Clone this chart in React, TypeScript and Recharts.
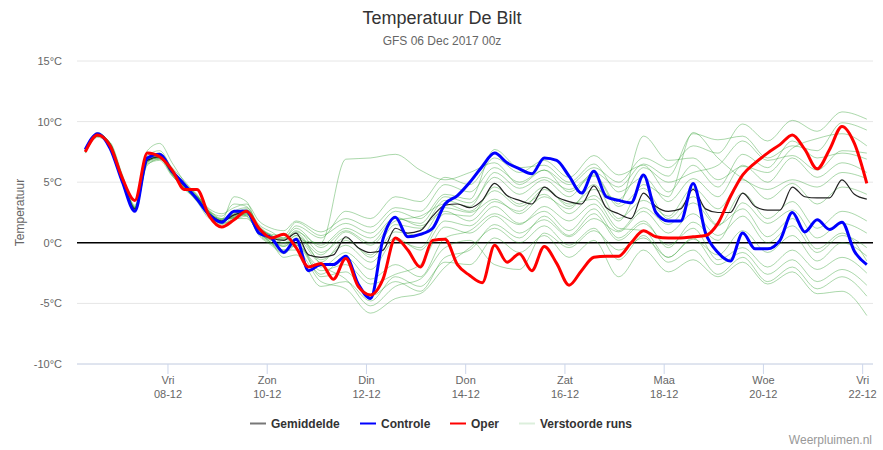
import React from 'react';
import { LineChart, Line, XAxis, YAxis, CartesianGrid, ReferenceLine } from 'recharts';

// hours after 06-12 00:00, one row every 6 hours
const hours = Array.from({ length: 64 }, (_, i) => 8 + i * 6);

const tickHours = [48, 96, 144, 192, 240, 288, 336, 384];
const tickDays = ['Vri', 'Zon', 'Din', 'Don', 'Zat', 'Maa', 'Woe', 'Vri'];
const tickDates = ['08-12', '10-12', '12-12', '14-12', '16-12', '18-12', '20-12', '22-12'];
const yTicks = [-10, -5, 0, 5, 10, 15];

const gemiddelde = [
  7.6, 8.9, 8.1, 5.2, 2.8, 6.8, 7.1, 5.8, 4.7, 3.7, 2.4, 1.8, 2.3, 2.6, 1.1, 0.4, 0.2,
  0.8, -1.0, -1.2, -1.0, 0.5, -0.4, -0.8, -0.6, 1.2, 0.8, 1.0, 2.2, 3.1, 3.2, 2.9, 3.5,
  4.9, 3.9, 3.5, 3.2, 4.6, 3.8, 3.4, 3.2, 4.7, 2.9, 2.4, 2.0, 4.1, 3.0, 2.6, 2.8,
  4.4, 2.8, 2.5, 2.5, 4.1, 3.0, 2.7, 2.7, 4.6, 3.8, 3.7, 3.7, 5.2, 4.0, 3.6,
];

const controle = [
  7.7, 9.0, 7.8, 5.0, 2.6, 7.0, 7.3, 5.9, 4.8, 3.6, 2.3, 1.7, 2.6, 2.6, 0.8, 0.4, -0.8,
  0.3, -2.3, -1.8, -1.8, -1.1, -3.4, -4.6, 0.3, 2.1, 0.5, 0.7, 1.2, 3.2, 3.9, 5.0, 6.3,
  7.4, 6.6, 6.1, 5.7, 7.0, 6.8, 5.5, 4.1, 5.9, 3.8, 3.5, 3.3, 5.6, 2.5, 1.8, 1.8,
  4.9, 0.8, -0.8, -1.5, 0.8, -0.5, -0.5, 0.2, 2.5, 0.9, 1.9, 1.1, 1.7, -0.7, -1.8,
];

const oper = [
  7.5, 8.9, 8.0, 5.3, 3.5, 7.4, 7.1, 6.0, 4.4, 4.4, 2.2, 1.3, 1.9, 2.6, 1.2, 0.4, 0.7,
  -0.4, -2.0, -1.7, -3.0, -1.3, -3.6, -4.3, -3.0, 0.4, -0.6, -2.0, 0.2, 0.3, -1.8, -2.7, -3.3,
  -0.2, -1.6, -0.9, -2.3, -0.3, -1.7, -3.5, -2.3, -1.2, -1.1, -1.1, 0.0, 1.0, 0.5, 0.4, 0.4,
  0.5, 0.6, 1.6, 3.8, 5.6, 6.6, 7.4, 8.1, 8.9, 7.7, 6.1, 7.7, 9.6, 8.2, 4.9,
];

// perturbed runs: every 6 h up to row 16, then every 12 h (rows 17, 19, ... 63)
const runRows = [
  0, 1, 2, 3, 4, 5, 6, 7, 8, 9, 10, 11, 12, 13, 14, 15, 16,
  17, 19, 21, 23, 25, 27, 29, 31, 33, 35, 37, 39, 41, 43, 45, 47, 49, 51, 53, 55, 57, 59, 61, 63,
];

const run00 = [7.4, 8.8, 8.2, 5.5, 3.0, 7.2, 7.6, 6.1, 4.9, 3.9, 2.6, 2.2, 3.2, 3.0, 1.3, 0.6, 0.0,
  0.2, 0.0, 6.9, 7.0, 7.3, 6.0, 5.2, 5.8, 6.6, 4.8, 6.0, 4.2, 5.5, 3.0, 4.5, 2.0, 3.8, 1.5, 2.8, 0.5, 2.0, -0.5, 0.8, -1.5];
const run01 = [7.5, 8.8, 8.3, 5.6, 3.1, 7.0, 7.4, 6.2, 5.1, 3.9, 2.8, 2.4, 2.9, 3.2, 1.8, 1.2, 1.0,
  1.8, 0.9, 2.0, 1.3, 2.9, 2.6, 4.8, 4.2, 6.2, 5.0, 6.0, 4.8, 6.2, 5.0, 7.0, 6.2, 8.0, 7.4, 9.8, 8.4, 10.1, 9.2, 10.8, 10.2];
const run02 = [7.8, 9.1, 8.0, 5.0, 2.6, 6.6, 7.2, 6.0, 4.6, 3.5, 2.2, 1.6, 2.6, 2.9, 1.5, 0.9, 0.4,
  1.2, -0.4, 1.0, 0.0, 2.0, 1.6, 3.8, 3.3, 5.4, 4.0, 5.2, 3.8, 5.8, 4.6, 6.5, 5.5, 9.0, 8.5, 8.8, 7.0, 8.0, 7.6, 9.9, 9.3];
const run03 = [7.7, 9.0, 8.2, 5.4, 2.9, 7.1, 7.0, 5.6, 4.5, 3.8, 2.6, 1.9, 2.1, 2.4, 0.9, 0.2, -0.3,
  0.4, -1.6, 0.2, -1.0, 1.5, 1.2, 3.5, 3.0, 5.8, 4.5, 5.4, 4.4, 5.6, 3.2, 8.8, 6.8, 7.0, 5.2, 6.3, 5.8, 7.8, 8.6, 9.0, 8.0];
const run04 = [7.4, 8.7, 7.9, 5.0, 2.7, 6.5, 6.8, 5.5, 4.6, 3.6, 2.3, 1.9, 3.8, 3.4, 1.0, 0.0, -0.6,
  -0.2, -2.0, -0.8, -2.2, 0.2, -0.4, 2.4, 2.2, 4.6, 3.2, 4.6, 3.0, 4.4, 3.6, 6.2, 5.0, 5.8, 6.4, 8.4, 6.8, 7.2, 6.0, 7.6, 7.4];
const run05 = [7.6, 8.9, 8.1, 5.3, 2.8, 7.6, 8.2, 6.6, 5.0, 3.6, 2.1, 1.5, 2.0, 2.3, 1.2, 0.6, 0.4,
  1.4, 0.4, 2.6, 2.0, 3.8, 3.4, 5.4, 4.8, 7.0, 5.8, 6.8, 5.4, 7.2, 5.6, 6.4, 4.2, 6.4, 4.6, 7.3, 6.2, 8.4, 7.0, 7.4, 6.9];
const run06 = [7.5, 8.8, 8.0, 5.1, 2.7, 6.4, 6.9, 5.9, 4.8, 3.9, 2.7, 2.0, 2.4, 2.7, 1.4, 0.7, 0.6,
  1.7, 0.6, 1.6, 0.8, 2.6, 2.0, 4.0, 3.6, 7.7, 6.2, 6.4, 5.0, 6.5, 4.2, 5.4, 3.4, 5.3, 3.8, 6.4, 5.0, 7.0, 5.4, 6.6, 5.8];
const run07 = [7.7, 9.0, 8.2, 5.2, 2.9, 6.9, 7.2, 5.7, 4.5, 3.4, 2.0, 1.7, 2.5, 2.2, 0.8, 0.2, -0.2,
  0.6, -1.0, 0.9, -0.2, 1.8, 2.2, 3.2, 2.6, 4.3, 3.0, 4.0, 2.4, 3.9, 1.8, 4.8, 3.8, 9.1, 7.0, 5.3, 4.4, 5.2, 4.6, 5.8, 5.3];
const run08 = [7.6, 8.9, 8.0, 5.3, 2.8, 6.7, 7.0, 5.8, 4.8, 3.8, 2.5, 1.8, 2.2, 2.5, 1.0, 0.5, 0.3,
  1.0, -0.8, 0.4, -1.2, 0.9, 0.6, 2.9, 2.5, 3.6, 2.4, 3.8, 2.8, 4.8, 2.0, 3.5, 2.2, 4.5, 2.8, 5.2, 3.6, 4.9, 3.2, 4.6, 4.0];
const run09 = [7.6, 8.9, 8.2, 5.2, 2.8, 6.8, 7.3, 6.0, 4.9, 4.0, 2.5, 1.6, 1.9, 2.2, 0.6, -0.2, -0.9,
  -0.2, -2.6, -1.2, -3.0, -1.8, -2.8, 0.4, 1.0, 2.4, 1.5, 3.0, 1.8, 3.2, 1.0, 2.9, 1.5, 3.3, 1.4, 4.1, 2.0, 3.4, 1.2, 2.6, 1.8];
const run10 = [7.5, 8.8, 8.1, 5.4, 3.0, 7.0, 7.0, 5.6, 4.4, 3.6, 2.4, 2.0, 2.0, 2.0, 0.9, 0.3, 0.0,
  0.6, -1.4, -0.2, -1.6, 0.4, -0.6, 1.8, 1.4, 3.0, 1.6, 2.6, 1.0, 2.8, 0.4, 1.8, -0.4, 1.7, 0.2, 3.3, 1.6, 2.7, 0.4, 1.6, 0.8];
const run11 = [7.7, 9.0, 8.0, 5.1, 2.7, 6.6, 6.9, 5.7, 4.6, 3.5, 2.3, 1.7, 2.3, 2.4, 0.7, -0.1, -0.8,
  -0.1, -2.3, -1.8, -3.4, -2.6, -1.8, 1.3, 0.8, 2.2, 0.8, 1.9, 0.5, 2.0, 0.9, 2.6, 0.8, 2.4, 0.6, 2.2, 0.0, 1.4, -0.8, 0.6, -0.4];
const run12 = [7.6, 8.9, 8.1, 5.2, 2.8, 6.9, 7.1, 5.8, 4.7, 3.7, 2.4, 1.8, 2.3, 2.6, 1.3, 0.5, 0.2,
  0.9, -0.2, 1.2, 0.4, 2.1, 1.4, 2.6, 1.8, 3.4, 2.6, 4.4, 3.2, 3.6, 1.2, 1.0, -1.2, 0.3, -1.0, 1.0, -0.8, 0.6, -1.5, 0.0, -1.1];
const run13 = [7.5, 8.8, 8.0, 5.2, 2.9, 6.8, 7.1, 5.9, 4.7, 3.7, 2.5, 1.8, 2.2, 2.5, 1.1, 0.3, -0.3,
  0.2, -2.8, -2.4, -4.4, -3.2, -4.0, -1.2, -0.6, 1.5, 0.4, 2.2, 0.6, 2.4, 0.2, 1.6, -0.2, 1.2, -1.4, -0.4, -2.0, -0.6, -2.2, -1.2, -2.5];
const run14 = [7.7, 9.0, 8.2, 5.1, 2.7, 6.7, 7.0, 5.8, 4.6, 3.6, 2.3, 1.7, 2.4, 2.8, 1.3, 0.6, 0.3,
  0.8, -1.8, -3.0, -5.2, -3.6, -3.0, -0.4, 0.2, -1.8, -2.2, 0.8, -0.4, 1.0, -0.6, 0.4, -1.2, 0.4, -1.8, -0.8, -2.6, -1.4, -3.2, -2.2, -3.5];
const run15 = [7.6, 8.9, 8.0, 5.3, 2.9, 6.9, 7.2, 5.8, 4.6, 3.5, 2.2, 1.6, 2.1, 2.4, 0.8, 0.0, -0.6,
  -0.6, -3.2, -3.8, -5.8, -4.6, -4.2, -2.0, -0.4, 1.2, 0.0, 1.4, -0.2, 1.2, -1.4, 0.6, -1.6, -0.6, -2.6, -1.2, -3.2, -2.0, -3.8, -2.8, -4.4];
const run16 = [7.5, 8.8, 8.2, 5.4, 2.9, 6.8, 7.0, 5.7, 4.8, 3.8, 2.6, 1.9, 2.1, 2.3, 0.9, 0.0, -1.2,
  -1.0, -3.6, -3.2, -4.8, -2.8, -3.6, -1.6, -1.8, 0.4, -0.8, 0.6, -1.2, 0.2, -2.8, -0.6, -2.4, -1.4, -2.8, -1.6, -3.4, -2.4, -4.2, -4.0, -6.0];

const runs = [run00, run01, run02, run03, run04, run05, run06, run07, run08, run09,
  run10, run11, run12, run13, run14, run15, run16];

type Row = { [key: string]: number | undefined };

const data: Row[] = hours.map((h, i) => ({
  hour: h,
  gemiddelde: gemiddelde[i],
  controle: controle[i],
  oper: oper[i],
}));
runs.forEach((run, r) => {
  run.forEach((v, k) => {
    data[runRows[k]][`run${r}`] = v;
  });
});

const font = '"Liberation Sans", Arial, Helvetica, sans-serif';

const XTick = (props: any) => {
  const { x, y, payload } = props;
  const idx = tickHours.indexOf(payload.value);
  return (
    <g transform={`translate(${x},${y})`}>
      <text textAnchor="middle" fill="#666666" fontSize={11} fontFamily={font}>
        <tspan x={0} dy={8}>{tickDays[idx]}</tspan>
        <tspan x={0} dy={14}>{tickDates[idx]}</tspan>
      </text>
    </g>
  );
};

const YTitle = (props: any) => {
  const vb = props.viewBox;
  const cx = vb.x + 24;
  const cy = vb.y + vb.height / 2;
  return (
    <text x={cx} y={cy} transform={`rotate(-90 ${cx} ${cy})`} textAnchor="middle"
      fill="#666666" fontSize={12} fontFamily={font}>
      Temperatuur
    </text>
  );
};

const legendItems = [
  { name: 'Gemiddelde', color: '#777777', x: 250 },
  { name: 'Controle', color: '#0000ff', x: 360 },
  { name: 'Oper', color: '#ff0000', x: 450 },
  { name: 'Verstoorde runs', color: '#dcefdc', x: 519 },
];

export default function App() {
  return (
    <div style={{ position: 'absolute', left: 0, top: 0, width: 883, height: 450, background: '#fff' }}>
      <LineChart width={883} height={450} data={data} margin={{ top: 61, right: 10, bottom: 0, left: 0 }}>
        <CartesianGrid vertical={false} stroke="#e6e6e6" />
        <XAxis dataKey="hour" type="number" domain={[4, 389]} ticks={tickHours} interval={0}
          height={86} tickSize={10} stroke="#ccd6eb" tick={<XTick />} />
        <YAxis type="number" domain={[-10, 15]} ticks={yTicks} width={77} axisLine={false}
          tickLine={false} tickSize={0} tickMargin={15}
          tick={{ fill: '#666666', fontSize: 11, fontFamily: font }}
          tickFormatter={(v: number) => `${v}°C`} label={<YTitle />} />
        <ReferenceLine y={0} stroke="#000000" strokeWidth={1.5} />
        {runs.map((_, r) => (
          <Line key={r} dataKey={`run${r}`} type="monotone" stroke="#2e9e2e" strokeOpacity={0.4}
            strokeWidth={1} dot={false} activeDot={false} connectNulls isAnimationActive={false} />
        ))}
        <Line dataKey="gemiddelde" type="monotone" stroke="#222222" strokeWidth={1.2}
          dot={false} activeDot={false} isAnimationActive={false} />
        <Line dataKey="controle" type="monotone" stroke="#0000ff" strokeWidth={3}
          dot={false} activeDot={false} isAnimationActive={false} />
        <Line dataKey="oper" type="monotone" stroke="#ff0000" strokeWidth={3}
          dot={false} activeDot={false} isAnimationActive={false} />
      </LineChart>
      <svg width={883} height={450} style={{ position: 'absolute', left: 0, top: 0, pointerEvents: 'none' }}>
        <text x={442} y={24} textAnchor="middle" fill="#333333" fontSize={18} fontFamily={font}>
          Temperatuur De Bilt
        </text>
        <text x={442} y={45} textAnchor="middle" fill="#666666" fontSize={12} fontFamily={font}>
          GFS 06 Dec 2017 00z
        </text>
        {legendItems.map((it) => (
          <g key={it.name}>
            <line x1={it.x} x2={it.x + 16} y1={423.5} y2={423.5} stroke={it.color} strokeWidth={2} />
            <text x={it.x + 21} y={428} fill="#333333" fontSize={12} fontWeight="bold" fontFamily={font}>
              {it.name}
            </text>
          </g>
        ))}
        <text x={872} y={444} textAnchor="end" fill="#999999" fontSize={12} fontFamily={font}>
          Weerpluimen.nl
        </text>
      </svg>
    </div>
  );
}
